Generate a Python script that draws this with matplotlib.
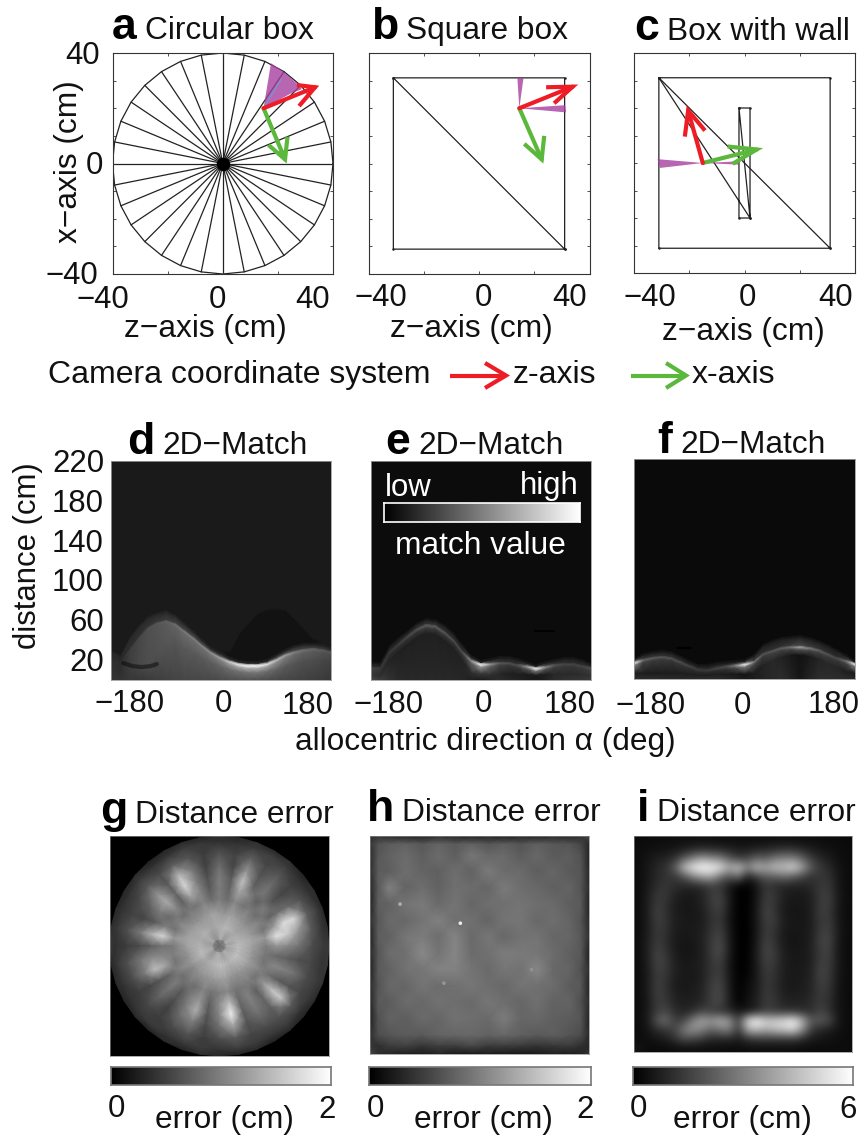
import numpy as np
import matplotlib
matplotlib.use("Agg")
import matplotlib.pyplot as plt

plt.rcParams['font.family'] = ['Liberation Sans', 'DejaVu Sans']

W, H = 859, 1136
RED, GREEN, PURPLE, BLUE = '#ee1c25', '#5cb83c', '#a63f9f', '#6f9bd1'

# ---------- panels a-c: geometry in cm ----------
limits = [-40, 40]
x_ticks = [-20, 0, 20]
y_ticks = [-30, -20, -10, 0, 10, 20, 30]
circle_radius = 40
n_spokes = 32
box_half = 31
wall_z = [-2, 2]
wall_x = [-20, 20]

# each arrow: origin, tip, two barb ends as (z, x)
a_origin = (14.8, 20.0)
a_red = [(33.5, 27.6), (26.9, 28.4), (27.7, 20.8)]
a_green = [(22.6, 1.5), (16.6, 6.7), (23.5, 9.7)]
a_fans = [[(14.8, 20.0), (17.5, 36.3), (22.0, 33.3), (26.9, 29.0), (28.7, 26.9), (25.0, 25.5)]]
a_view = (21.2, 30.5)

b_origin = (14.6, 20.0)
b_red = [(33.9, 27.8), (24.3, 27.6), (27.2, 21.8)]
b_green = [(22.7, 1.5), (16.4, 7.1), (23.6, 10.0)]
b_fans = [[(14.6, 20.0), (13.9, 30.9), (16.1, 30.9)],
          [(14.6, 20.0), (31.2, 21.1), (31.5, 18.5)]]

c_origin = (-15.1, 0.0)
c_red = [(-20.4, 19.1), (-21.6, 9.6), (-14.3, 11.8)]
c_green = [(4.4, 4.9), (-6.1, 6.0), (-4.3, -0.3)]
c_fans = [[(-15.1, 0.0), (-31.5, 1.4), (-30.6, -1.8)],
          [(-15.1, 0.0), (-2.2, 0.6), (-2.2, -0.6)]]

# ---------- panels d-f: per-direction readings ----------
alpha = list(range(-180, 181, 15))

d_background, d_edge = 26, 40
d_env = [27, 22, 40, 52, 61, 65, 67, 63, 55, 47, 38, 30, 25, 20, 17, 16, 16, 18, 23, 28, 32, 34, 34, 33, 30]
d_ridge = [22, 18, 30, 42, 52, 57, 59, 56, 49, 42, 34, 27, 22, 18, 15.5, 14.5, 14.5, 16, 20, 25, 28, 30, 31, 30, 28]
d_ridge_v = [45, 45, 62, 70, 80, 88, 98, 112, 125, 130, 135, 145, 165, 205, 240, 255, 255, 230, 190, 160, 130, 115, 105, 95, 85]
d_under = [10, 10, 15, 15, 15, 25, 35, 38, 33, 28, 22, 18, 14, 11, 9, 8, 8, 9, 11, 14, 17, 19, 20, 20, 18]
d_under_v = [50, 45, 62, 72, 78, 80, 85, 85, 90, 90, 90, 95, 100, 110, 115, 120, 120, 110, 100, 90, 85, 80, 78, 72, 65]
d_floor_v = [52, 52, 55, 55, 58, 62, 65, 68, 70, 70, 72, 72, 75, 78, 80, 80, 78, 75, 72, 70, 68, 65, 62, 60, 55]
d_shade = [29, 24, 42, 54, 63, 67, 69, 65, 57, 49, 40, 32, 27, 27, 45, 55, 65, 69, 70, 69, 60, 50, 40, 35, 32]
d_shade_v = 18
d_blob = ([-160, -145, -130, -115, -105], [17, 14, 13, 14, 16])

e_background, e_edge = 12, 30
e_env = [15, 15, 32, 40, 47, 55, 59, 58, 53, 45, 33, 22, 17, 19, 21, 21, 19, 16, 13, 16, 18, 20, 20, 18, 14]
e_ridge = [12, 12, 28, 36, 44, 51, 55, 54, 48, 40, 28, 19, 15.5, 16, 17, 17, 15, 13.5, 11.5, 13, 15, 16, 16, 14, 12]
e_ridge_v = [70, 60, 60, 65, 75, 85, 95, 95, 90, 80, 80, 150, 255, 150, 90, 80, 80, 150, 255, 140, 85, 72, 70, 70, 80]
e_under = [5, 5, 20, 28, 36, 43, 47, 46, 40, 32, 20, 8, 7, 6, 6, 6, 6, 6, 5, 6, 6, 6, 6, 6, 5]
e_under_v = [55, 45, 35, 32, 32, 32, 32, 32, 32, 32, 35, 50, 60, 50, 40, 32, 30, 28, 25, 30, 40, 42, 42, 45, 50]
e_floor_v = [70, 62, 50, 42, 40, 40, 40, 40, 40, 40, 38, 30, 25, 35, 45, 40, 35, 30, 24, 32, 45, 50, 52, 55, 60]
e_notch = ([88, 120], [49, 49])

f_background, f_edge = 10, 28
f_env = [18, 23, 25, 26, 25, 21, 16, 12, 12, 14, 15, 16, 17, 22, 32, 36, 39, 40, 41, 39, 36, 32, 27, 22, 16]
f_ridge = [16, 19, 21, 22, 21, 17, 13, 9.5, 9, 11, 12.5, 13.5, 14.5, 17, 25, 28, 31, 32, 32, 31, 29, 25, 21, 18, 15]
f_ridge_v = [245, 105, 95, 90, 85, 80, 70, 60, 60, 70, 80, 130, 250, 125, 85, 90, 95, 115, 165, 125, 100, 85, 75, 110, 245]
f_under = [6, 6, 6, 6, 6, 6, 5, 4, 4, 5, 5, 5, 5, 6, 14, 18, 22, 24, 24, 23, 20, 16, 12, 8, 6]
f_under_v = [30, 30, 28, 28, 28, 30, 30, 30, 30, 30, 28, 25, 20, 28, 35, 40, 35, 25, 18, 25, 35, 40, 38, 30, 25]
f_floor_v = [45, 45, 45, 45, 42, 42, 42, 45, 45, 45, 40, 35, 25, 30, 35, 40, 45, 35, 22, 35, 45, 45, 45, 45, 40]
f_notch = ([-108, -88], [31, 31])

# ---------- panel g: error by radius (rows) and angle (columns, every 10 deg) ----------
g_angles = list(range(0, 361, 10))
g_radii = [0, 2.5, 7, 12, 17, 21, 25, 29, 34, 38, 40]
g_rows = [
 [ 85]*36,
 [165,150,160,175,165,150,145,160,175,165,150,145,140,150,160,165,155,150,155,160,165,155,150,145,155,165,170,165,155,150,160,170,165,155,150,155],
 [190,185,180,175,170,175,180,185,180,175,170,165,170,175,180,175,170,175,180,185,190,185,175,170,175,180,185,190,190,185,180,185,190,195,190,190],
 [160,165,155,150,145,150,155,160,150,155,165,155,150,145,150,155,160,165,160,150,145,150,140,145,150,150,155,160,160,150,145,150,155,160,155,155],
 [125,150,115,130,110,125,115,135,110,125,110,130,115,120,110,130,115,150,120,125,115,130,110,120,110,130,115,125,135,115,120,125,115,130,115,120],
 [150,225,150,100,125, 95,135,165,100,125, 90,135,165, 95,140,105,125,215,115,135,165,100,125, 90,125,150, 95,140,190,105,130, 95,150,110,135,105],
 [135,205,220,110, 85,120, 95,195, 90,125, 80,130,215,100,170,125, 90,180, 95,140,190, 85,115, 80,120,175, 85,135,240, 95,125,100,195, 90,130, 95],
 [115,150,215,105, 70,110, 85,150, 70,110, 65,125,195, 90,150,100, 70,125, 75,120,125, 70,100, 65,110,130, 75,115,175, 85,110, 95,205, 85,115, 80],
 [ 75, 90, 95, 80, 65, 85, 70, 95, 65, 80, 60, 85, 95, 75, 90, 70, 65, 80, 60, 80, 75, 60, 70, 60, 75, 85, 60, 75, 90, 70, 75, 80, 90, 70, 75, 70],
 [ 58, 52, 60, 50, 48, 58, 62, 58, 50, 48, 55, 60, 52, 48, 58, 50, 50, 55, 48, 55, 50, 48, 55, 58, 50, 55, 58, 50, 60, 58, 52, 58, 50, 55, 58, 52],
 [ 55, 42, 38, 45, 35, 48, 40, 48, 36, 45, 35, 42, 38, 32, 45, 36, 40, 45, 55, 38, 42, 35, 40, 32, 42, 35, 45, 38, 36, 42, 32, 40, 36, 42, 50, 55],
]

# ---------- panel h: error on a 16 x 16 grid (top row first), hot spots as (z, x, value) ----------
h_coords = [-40, -37, -33, -27, -21, -15, -9, -3, 3, 9, 15, 21, 27, 33, 37, 40]
h_rows = [
 [ 45, 52, 44, 36, 34, 46, 38, 32, 36, 30, 38, 34, 42, 38, 48, 70],
 [ 52, 82, 92, 98, 88,100, 90, 98, 86, 94, 84, 96, 88, 84, 70, 40],
 [ 44, 88, 98,108, 94,108, 94,118,104,106, 92,104, 90, 94, 82, 36],
 [ 46, 92, 94,110,100, 96,110, 98,122,108,106, 94,102, 90, 86, 40],
 [ 38, 90,128,100,110, 98,112,108,102,122,110,104, 96,100, 84, 44],
 [ 34, 94, 98,116,122,106,116,102,110,112,116,110,106, 94, 90, 36],
 [ 44, 88,106,104,116,128,112,112,100,116,118,104,110,100, 84, 42],
 [ 32, 94, 98,118,124,110,132,106,118,104,114,116,102,102, 88, 48],
 [ 40, 86,108,112,136,116,134,108,112,124,122,118,108, 96, 88, 34],
 [ 32, 90, 98,114,118,130,130,116,106,118,114,134,104,100, 82, 46],
 [ 44, 84,104,102,116,108,112,118,110,104,116,112,108, 92, 88, 36],
 [ 38, 90, 92,108,104,114,110,106,118,110,102,112, 98,100, 80, 44],
 [ 32, 82, 98, 94,106,102,114,110,106,124,102,104, 96, 92, 86, 36],
 [ 46, 78, 86, 92, 90,100,102,104, 98,104, 96, 90, 94, 84, 76, 42],
 [ 52, 48, 60, 66, 54, 64, 62, 74, 60, 62, 58, 52, 56, 60, 48, 38],
 [ 70, 44, 38, 30, 28, 36, 26, 24, 28, 24, 22, 26, 32, 28, 34, 52],
]
h_hot_z = [-7, -29, -13, 19]
h_hot_x = [8, 15, -14, -9]
h_hot_v = [235, 175, 150, 145]

# ---------- panel i: error on a 24 x 24 grid ----------
i_rows = [
 [10,12,12,14,14,16,16,16,16,14,14,14,14,14,14,16,16,16,14,14,14,12,12,10],
 [12,16,18,20,24,30,40,45,45,40,35,28,28,35,40,45,50,50,40,30,22,18,14,12],
 [12,20,30,35,50,90,130,160,140,130,90,60,70,100,90,120,130,130,100,60,40,28,16,12],
 [12,24,38,50,90,190,235,255,250,230,170,205,130,190,165,195,190,220,165,90,55,40,20,12],
 [12,24,40,50,55,80,130,160,170,110,80,110,30,60,90,90,110,90,70,50,55,50,22,12],
 [12,24,45,55,45,40,40,45,60,55,26,2,0,22,55,45,35,35,35,40,55,55,22,12],
 [12,28,55,55,35,25,25,35,60,65,24,0,0,20,60,55,32,25,25,32,60,60,25,12],
 [12,28,60,50,30,22,25,32,58,70,26,0,0,22,65,50,28,22,24,30,58,62,24,12],
 [12,30,65,48,28,24,22,30,50,62,22,0,0,24,70,52,26,22,22,28,62,58,22,12],
 [12,28,62,52,30,26,24,28,48,58,20,0,0,24,62,58,28,24,22,30,55,60,24,12],
 [12,28,58,50,28,24,26,30,52,66,24,0,0,22,60,50,26,22,24,28,60,64,26,12],
 [12,30,60,46,26,22,24,32,56,72,26,0,0,24,66,48,24,20,22,30,64,68,24,12],
 [12,32,64,50,26,20,22,30,60,78,28,0,0,26,72,54,28,22,24,32,62,66,22,12],
 [12,30,70,56,30,22,24,30,56,70,24,0,0,28,68,58,30,24,24,30,60,62,24,12],
 [12,28,66,58,32,24,26,32,52,62,22,0,2,26,62,52,28,24,26,32,66,60,22,12],
 [12,26,60,54,30,26,24,30,54,64,24,0,5,24,58,50,30,24,26,34,68,58,22,12],
 [12,26,64,50,28,24,26,34,60,70,26,0,12,26,56,46,28,24,28,36,62,54,20,12],
 [12,26,62,52,30,26,28,36,62,74,28,0,14,28,58,50,30,28,30,38,60,50,20,12],
 [12,24,60,58,36,30,32,40,64,72,30,2,18,32,60,54,36,34,36,44,58,46,20,12],
 [12,25,60,70,45,35,45,70,60,50,40,25,20,40,60,55,50,50,45,45,70,50,20,12],
 [12,25,85,110,60,70,130,165,150,175,150,60,215,255,210,210,220,245,180,90,90,75,22,12],
 [12,20,45,55,70,120,150,130,100,120,130,50,170,190,170,190,200,220,150,60,40,30,18,12],
 [12,16,22,30,50,80,70,60,40,40,40,30,50,60,60,60,60,60,45,28,22,18,14,12],
 [20,10,12,12,14,14,16,14,14,14,12,12,14,14,14,14,14,14,12,12,12,12,12,12],
]

# ---------- texts ----------
tick_labels_box = ['\u221240', '0', '40']
tick_labels_dir = ['\u2212180', '0', '180']
tick_labels_dist = ['220', '180', '140', '100', '60', '20']
FS = 22.4

fig = plt.figure(figsize=(W / 100, H / 100), dpi=100, facecolor='white')


def axpx(l, t, r, b, **kw):
    return fig.add_axes([l / W, 1 - b / H, (r - l) / W, (b - t) / H], **kw)


def T(x, y, s, size=FS, **kw):
    kw.setdefault('va', 'baseline')
    kw.setdefault('ha', 'left')
    return fig.text(x / W, 1 - y / H, s, fontsize=size, color=kw.pop('color', '#111111'), **kw)


def B(x, y, s):
    return T(x, y, s, size=32, fontweight='bold', color='black')


def box_axes(l, t, r, b):
    ax = axpx(l, t, r, b)
    ax.set_xlim(limits)
    ax.set_ylim(limits)
    ax.set_xticks(x_ticks)
    ax.set_yticks(y_ticks)
    ax.tick_params(direction='in', length=2, width=0.6, top=True, right=True,
                   labelleft=False, labelbottom=False, color='#333333')
    for s in ax.spines.values():
        s.set_linewidth(0.8)
        s.set_color('#333333')
    return ax


def mesh_line(ax, zs, xs, dots=False):
    ax.plot(zs, xs, color='#222222', lw=0.9, solid_capstyle='round', zorder=1,
            marker='o' if dots else None, ms=1.8, mew=0)


def draw_camera(ax, origin, red, green, fans):
    for fan in fans:
        ax.fill([p[0] for p in fan], [p[1] for p in fan], color=PURPLE, alpha=0.8, lw=0, zorder=2)
    for arrow, col in ((green, GREEN), (red, RED)):
        tip, b1, b2 = arrow
        ax.plot([origin[0], tip[0]], [origin[1], tip[1]], color=col, lw=3, zorder=4, solid_capstyle='round')
        ax.plot([b1[0], tip[0], b2[0]], [b1[1], tip[1], b2[1]], color=col, lw=3, zorder=4,
                solid_joinstyle='miter', solid_capstyle='butt')


# panel a
ax = box_axes(112.5, 53, 333, 274)
theta = np.linspace(0, 2 * np.pi, n_spokes + 1)
mesh_line(ax, circle_radius * np.cos(theta), circle_radius * np.sin(theta))
for t in theta[:-1]:
    mesh_line(ax, [0, circle_radius * np.cos(t)], [0, circle_radius * np.sin(t)])
ax.scatter([0], [0], s=95, color='black', zorder=1, lw=0)
draw_camera(ax, a_origin, a_red, a_green, a_fans)
ax.plot([a_origin[0], a_view[0]], [a_origin[1], a_view[1]], color=BLUE, lw=0.9, zorder=3)

# panel b
ax = box_axes(368.5, 53, 589.5, 274)
c = box_half
mesh_line(ax, [-c, c, c, -c, -c, c], [c, c, -c, -c, c, -c], dots=True)
draw_camera(ax, b_origin, b_red, b_green, b_fans)

# panel c
ax = box_axes(634, 53, 855, 273)
mesh_line(ax, [-c, c, c, -c, -c, c], [c, c, -c, -c, c, -c], dots=True)
mesh_line(ax, [wall_z[0], wall_z[1], wall_z[1], wall_z[0], wall_z[0], wall_z[1], -c],
          [wall_x[1], wall_x[1], wall_x[0], wall_x[0], wall_x[1], wall_x[0], c], dots=True)
draw_camera(ax, c_origin, c_red, c_green, c_fans)

# panels d-f


def match_panel(l, t, r, b, bg, edge, env, ridge, ridge_v, under, under_v, floor_v, shade=None, shade_v=None):
    ax = axpx(l, t, r, b, facecolor=np.array([bg, bg, bg]) / 255)
    n = len(alpha)
    env, ridge, ridge_v = np.array(env, float), np.array(ridge, float), np.array(ridge_v, float)
    under, under_v, floor_v = np.array(under, float), np.array(under_v, float), np.array(floor_v, float)
    shade = env + 2.5 if shade is None else np.array(shade, float)
    sv = bg if shade_v is None else shade_v
    tone = np.where(shade > env + 3, sv, bg)
    knots = [np.zeros(n), under, ridge - 2, ridge, ridge + 2, env + 1, env + 4, np.maximum(shade, env + 4.5),
             np.maximum(shade, env + 4.5) + 2.5, np.full(n, 220.0)]
    vals = [floor_v, under_v, (ridge_v + under_v) / 2, ridge_v, (ridge_v + 2 * edge) / 3, np.full(n, float(edge)),
            tone, tone, np.full(n, float(bg)), np.full(n, float(bg))]
    Y = np.maximum.accumulate(np.array(knots), axis=0)
    X = np.tile(np.array(alpha, float), (len(knots), 1))
    ax.pcolormesh(X, Y, np.array(vals), shading='gouraud', cmap='gray', vmin=0, vmax=255)
    ax.set_xlim(-180, 180)
    ax.set_ylim(0, 220)
    ax.set_xticks([])
    ax.set_yticks([])
    for s in ax.spines.values():
        s.set_linewidth(0.6)
        s.set_color('#999999')
    return ax


ax_d = match_panel(111, 461, 331, 680, d_background, d_edge, d_env, d_ridge, d_ridge_v, d_under, d_under_v, d_floor_v,
                   d_shade, d_shade_v)
ax_d.plot(*d_blob, color='black', lw=3, alpha=0.45, solid_capstyle='round')
ax_e = match_panel(371, 461, 591, 680, e_background, e_edge, e_env, e_ridge, e_ridge_v, e_under, e_under_v, e_floor_v)
ax_e.plot(*e_notch, color='black', lw=1.2)
ax_f = match_panel(634, 459, 855, 679, f_background, f_edge, f_env, f_ridge, f_ridge_v, f_under, f_under_v, f_floor_v)
ax_f.plot(*f_notch, color='black', lw=1.6)


def cbar(l, t, r, b, edge, lw=1.0):
    ax = axpx(l, t, r, b)
    ax.imshow(np.linspace(0, 1, 256)[None, :], cmap='gray', aspect='auto', vmin=0, vmax=1)
    ax.set_xticks([])
    ax.set_yticks([])
    for s in ax.spines.values():
        s.set_linewidth(lw)
        s.set_color(edge)
    return ax


cbar(384, 503, 580, 522, 'white', 1.2)

# panel g
ax = axpx(109.5, 836, 329, 1056, facecolor='black')
th = np.deg2rad(np.array(g_angles, float))
rr = np.array(g_radii, float)
TH, RR = np.meshgrid(th, rr)
vals = np.array(g_rows, float)
vals = np.hstack([vals, vals[:, :1]])
ax.pcolormesh(RR * np.cos(TH), RR * np.sin(TH), vals, shading='gouraud', cmap='gray', vmin=0, vmax=255)
ax.set_xlim(-40, 40)
ax.set_ylim(-40, 40)
ax.set_xticks([])
ax.set_yticks([])
for s in ax.spines.values():
    s.set_linewidth(0.5)
    s.set_color('#888888')

# panel h
ax = axpx(370, 836, 589, 1054)
hx, hy = np.meshgrid(h_coords, h_coords[::-1])
ax.pcolormesh(hx, hy, np.array(h_rows, float), shading='gouraud', cmap='gray', vmin=0, vmax=255)
ax.scatter(h_hot_z, h_hot_x, c=h_hot_v, cmap='gray', vmin=0, vmax=255, s=7, lw=0)
ax.set_xlim(-40, 40)
ax.set_ylim(-40, 40)
ax.set_xticks([])
ax.set_yticks([])
for s in ax.spines.values():
    s.set_linewidth(0.5)
    s.set_color('#888888')

# panel i
ax = axpx(634, 836, 852, 1052)
ax.imshow(np.array(i_rows, float), cmap='gray', vmin=0, vmax=255, aspect='auto', interpolation='bicubic')
ax.set_xticks([])
ax.set_yticks([])
for s in ax.spines.values():
    s.set_linewidth(0.5)
    s.set_color('#888888')

cbar(111, 1067, 331, 1085, '#777777', 1.2)
cbar(369, 1067, 591, 1085, '#777777', 1.2)
cbar(633, 1067, 853, 1085, '#777777', 1.2)

# overlay for the key arrows
ov = axpx(0, 0, W, H)
ov.set_xlim(0, W)
ov.set_ylim(H, 0)
ov.axis('off')
ov.patch.set_alpha(0)
key_arrows = [(450, 506, 485, RED), (631, 686, 666, GREEN)]
for x0, x1, xb, col in key_arrows:
    ov.plot([x0, x1], [375.5, 375.5], color=col, lw=3, solid_capstyle='butt')
    ov.plot([xb, x1, xb], [363, 375.5, 388], color=col, lw=3, solid_joinstyle='miter', solid_capstyle='butt')

# titles
B(112, 39, 'a'); T(145, 39, 'Circular box', size=22.8)
B(371, 39, 'b'); T(406, 39, 'Square box', size=22.8)
B(634, 40, 'c'); T(667, 40, 'Box with wall', size=22.8)
for (bx, bs, tx, by) in [(127, 'd', 162, 454), (385, 'e', 418, 454), (657, 'f', 680, 453)]:
    B(bx, by, bs)
    T(tx, by, '2D\u2212Match', size=22.8)
for (bx, bs, tx, by) in [(100, 'g', 135, 823), (367, 'h', 402, 821), (637, 'i', 657, 821)]:
    B(bx, by, bs)
    T(tx, by, 'Distance error', size=22.8)

# a-c tick labels
for s, y, r in zip(['40', '0', '\u221240'], [64, 174.5, 284], [100, 103, 98]):
    T(r, y, s, ha='right')
for xs, base in [((103, 217, 313), 308), ((381, 483, 570), 306), ((650, 747, 836), 306)]:
    for x, s in zip(xs, tick_labels_box):
        T(x, base, s, ha='center')
T(205, 337, 'z\u2212axis (cm)', ha='center', size=22.8)
T(471, 337, 'z\u2212axis (cm)', ha='center', size=22.8)
T(743, 340, 'z\u2212axis (cm)', ha='center', size=22.8)
T(69, 162, 'x\u2212axis (cm)', ha='center', va='center', rotation=90, size=22.8)

# key
T(48, 383, 'Camera coordinate system', size=23)
T(513, 383, 'z-axis', size=23)
T(692, 383, 'x-axis', size=23)

# d-f tick labels
for s, y in zip(tick_labels_dist, [472, 512, 552, 591, 631, 671]):
    T(104, y, s, ha='right')
T(28, 556, 'distance (cm)', ha='center', va='center', rotation=90)
for xs, bases in [((129.5, 223, 308), (712, 712, 714)), ((389, 483, 570), (713, 712, 713)),
                  ((651, 742, 834), (714, 714, 713))]:
    for x, s, y in zip(xs, tick_labels_dir, bases):
        T(x, y, s, ha='center')
T(295, 750, 'allocentric direction \u03b1 (deg)', size=22.8)

# inset key
T(385, 496, 'low', color='white')
T(520, 494, 'high', color='white')
T(395, 554, 'match value', color='white', size=22.8)

# colour bar labels
for zero_x, end_x, end_s, lab_x in [(116, 327, '2', 224), (375, 585, '2', 483), (638, 848, '6', 742)]:
    T(zero_x, 1117, '0', ha='center')
    T(end_x, 1118, end_s, ha='center')
    T(lab_x, 1128, 'error (cm)', ha='center', size=22.8)

fig.savefig('out.png', dpi=100, facecolor='white')
